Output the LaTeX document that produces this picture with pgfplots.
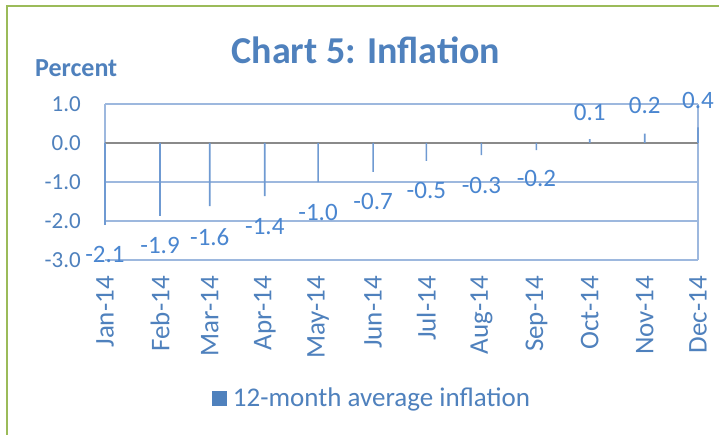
\documentclass[border=0pt]{standalone}
\usepackage{pgfplots}
\pgfplotsset{compat=1.18}
\usepackage{pgfplotstable}
\usepackage{fontspec}
\setmainfont{Carlito}
\definecolor{titleblue}{HTML}{4F81BD}
\definecolor{lblblue}{HTML}{4A86D0}
\definecolor{barblue}{HTML}{6F9AD2}
\definecolor{gridblue}{HTML}{9DB8DE}
\definecolor{zerogray}{HTML}{8A8A8A}
\definecolor{framegreen}{HTML}{9BBB59}
\pgfplotstableread{
x y
0 -2.1
31 -1.87
59 -1.62
90 -1.36
120 -1.0
151 -0.74
181 -0.46
212 -0.31
243 -0.18
273 0.1
304 0.24
334 0.4
}\bars
\pgfplotstableread{
x ly lbl
0 -2.85 -2.1
31 -2.64 -1.9
59 -2.41 -1.6
90 -2.15 -1.4
120 -1.77 -1.0
151 -1.51 -0.7
181 -1.23 -0.5
212 -1.08 -0.3
243 -0.92 -0.2
273 0.79 0.1
304 0.95 0.2
334 1.08 0.4
}\labels
\begin{document}
\begin{tikzpicture}
\useasboundingbox (0,0) rectangle (719pt,434pt);
\clip (0,0) rectangle (719pt,434pt);
\fill[white] (0,0) rectangle (719pt,434pt);
\draw[framegreen, line width=2.5pt] (7pt,-20pt) rectangle (740pt,428pt);
\node[font=\fontsize{38}{40}\selectfont\bfseries, text=titleblue] at (366pt,384pt) {Chart 5: Inflation};
\node[font=\fontsize{26}{28}\selectfont\bfseries, text=titleblue, anchor=base west, inner sep=0pt] at (35pt,357pt) {Percent};
\begin{axis}[
  at={(105pt,174pt)}, anchor=south west,
  scale only axis, width=593pt, height=156pt,
  xmin=0, xmax=334, ymin=-3, ymax=1,
  axis line style={draw=none},
  major tick length=0pt,
  ytick={-3,-2,-1,0,1},
  yticklabels={-3.0,-2.0,-1.0,0.0,1.0},
  ymajorgrids, grid style={gridblue, line width=1.2pt},
  yticklabel style={font=\fontsize{23}{25}\selectfont, text=titleblue, anchor=east, inner sep=0pt},
  yticklabel shift=24pt,
  xtick={0,31,59,90,120,151,181,212,243,273,304,334},
  xticklabels={Jan-14,Feb-14,Mar-14,Apr-14,May-14,Jun-14,Jul-14,Aug-14,Sep-14,Oct-14,Nov-14,Dec-14},
  xticklabel style={font=\fontsize{27}{29}\selectfont, text=titleblue, rotate=90, anchor=east, inner sep=0pt},
  xticklabel shift=16pt,
  clip=false,
  legend style={at={(0.18,-0.885)}, anchor=west, draw=none, fill=none, inner sep=0pt,
    font=\fontsize{27}{29}\selectfont, text=titleblue,
    /tikz/every odd column/.style={}},
  legend image code/.code={\fill[titleblue] (0pt,-7.5pt) rectangle (15pt,7.5pt);},
  legend cell align=left,
]
\draw[gridblue, line width=1.2pt] (axis cs:334,-3) -- (axis cs:334,1);
\draw[gridblue, line width=1.2pt] (axis cs:0,0) -- (axis cs:0,1);
\draw[zerogray, line width=1.5pt] (axis cs:0,0) -- (axis cs:334,0);
\addplot[ybar, bar width=1.6pt, bar shift=0pt, fill=barblue, draw=none] table[x=x,y=y] {\bars};
\addlegendentry{\hspace{4pt}12-month average inflation}
\addplot[draw=none, mark=none, forget plot, point meta=explicit symbolic,
  nodes near coords, nodes near coords align={center},
  every node near coord/.append style={font=\fontsize{25}{27}\selectfont, text=lblblue, inner sep=0pt}]
  table[x=x,y=ly,meta=lbl] {\labels};
\end{axis}
\end{tikzpicture}
\end{document}
